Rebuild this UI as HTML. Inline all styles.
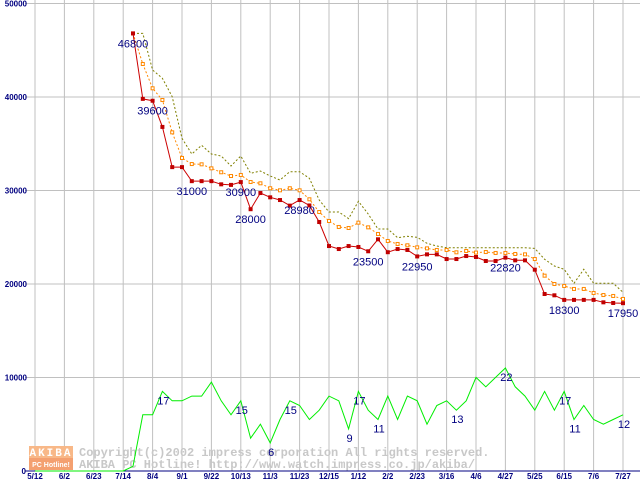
<!DOCTYPE html>
<html><head><meta charset="utf-8"><style>
html,body{margin:0;padding:0;background:#fff;}
svg{display:block;}
</style></head><body>
<svg id="chart" width="640" height="480" xmlns="http://www.w3.org/2000/svg">
<g id="grid"></g>
<g id="wm">
<rect x="29" y="446" width="44" height="12" fill="#f8b888"/>
<rect x="29" y="458" width="44" height="12" fill="#f4a070"/>
<text x="51" y="456" font-family="Liberation Mono, monospace" font-size="11" font-weight="bold" fill="#fff" text-anchor="middle" letter-spacing="2">AKIBA</text>
<text x="51" y="467" font-family="Liberation Sans, sans-serif" font-size="7" font-weight="bold" fill="#fff" text-anchor="middle">PC Hotline!</text>
<text x="79" y="456" font-family="Liberation Mono, monospace" font-size="12" font-weight="bold" fill="#c8c8c8">Copyright(c)2002 impress corporation All rights reserved.</text>
<text x="79" y="468" font-family="Liberation Mono, monospace" font-size="12" font-weight="bold" fill="#c8c8c8">AKIBA PC Hotline!  http://www.watch.impress.co.jp/akiba/</text>
</g>
<g id="series"></g>
<g id="labels"></g>
</svg>
<script>
const xLabels = ["5/12","6/2","6/23","7/14","8/4","9/1","9/22","10/13","11/3","11/23","12/15","1/12","2/2","2/23","3/16","4/6","4/27","5/25","6/15","7/6","7/27"];
const yTicks = [0,10000,20000,30000,40000,50000];
const startIndex = 10;
const minPrice = [46800,39800,39600,36800,32500,32500,31000,31000,31000,30660,30600,30900,28000,29730,29270,28980,28380,28980,28400,26630,24060,23740,24060,23960,23500,24780,23400,23740,23640,22950,23170,23170,22670,22670,22990,22890,22460,22460,22820,22530,22530,21530,18930,18790,18300,18300,18300,18300,18040,17970,17950];
const avgPrice = [46800,43530,40930,39680,36220,33480,32830,32800,32370,31950,31550,31660,30910,30770,30240,30020,30240,30020,29060,27700,26740,26100,25990,26560,26060,25350,24600,24280,24140,23920,23810,23640,23640,23390,23530,23360,23420,23320,23320,23210,23170,22670,20890,20000,19790,19470,19470,19040,18820,18720,18400];
const maxPrice = [46800,46800,42890,42000,40030,35580,33900,34830,33900,33690,32620,33690,31840,32090,31550,31120,32010,32010,31300,28980,27700,27700,26990,28840,27490,25880,25880,24950,25100,24990,24350,24060,23880,23880,23880,23880,23880,23880,23880,23880,23880,23810,22640,21930,21570,20070,21570,20070,20070,20070,19110];
const shopCount = [0,0,0,0,0,0,0,0,0,0,1,12,12,17,15,15,16,16,19,15,12,15,7,10,6,11,15,14,11,13,16,15,9,17,13,11,16,11,16,15,10,14,15,13,15,20,18,20,22,18,16,13,17,13,17,11,14,11,10,11,12];
const priceLabelIdx = [0,2,6,11,12,17,24,29,38,44,50];
const countLabelIdx = [13,21,24,26,32,33,35,43,48,54,55,60];

const NS="http://www.w3.org/2000/svg";
const X = i => 35 + i*9.8;
const Y = v => 471 - v*0.00935;
const YC = c => 471 - c*4.68;
function mk(tag, attrs, parent){const e=document.createElementNS(NS,tag);for(const k in attrs)e.setAttribute(k,attrs[k]);parent.appendChild(e);return e;}
const grid=document.getElementById('grid'), ser=document.getElementById('series'), lab=document.getElementById('labels');

xLabels.forEach((t,k)=>{
  const x=X(k*3);
  const l=mk('line',{x1:x,y1:0,x2:x,y2:471,stroke:'#c0c0c0','stroke-width':1},grid);
  
  
  const tx=mk('text',{x:x,y:479,'font-family':'Liberation Sans, sans-serif','font-size':8,'font-weight':'bold',fill:'#000080','text-anchor':'middle'},grid);
  tx.textContent=t;
  
  
});
yTicks.forEach(v=>{
  const y=Y(v);
  const l=mk('line',{x1:25,y1:y,x2:640,y2:y,stroke:v===0?'#000080':'#c0c0c0','stroke-width':1},grid);
  
  
  const tx=mk('text',{x:v===0?26:27,y:y+3,'font-family':'Liberation Sans, sans-serif','font-size':8,'font-weight':'bold',fill:'#000080','text-anchor':'end'},grid);
  tx.textContent=String(v);
  
  
});

function pts(arr,off,fy){return arr.map((v,i)=>X(i+off).toFixed(1)+','+fy(v).toFixed(1)).join(' ');}
const g1=mk('polyline',{points:pts(shopCount,0,YC),fill:'none',stroke:'#00ee00','stroke-width':1},ser);


const o1=mk('polyline',{points:pts(maxPrice,startIndex,Y),fill:'none',stroke:'#808000','stroke-width':1,'stroke-dasharray':'2,2'},ser);


const a1=mk('polyline',{points:pts(avgPrice,startIndex,Y),fill:'none',stroke:'#ff8800','stroke-width':1,'stroke-dasharray':'2,2'},ser);


avgPrice.forEach((v,i)=>{
  const r=mk('rect',{x:X(i+startIndex)-1.5,y:Y(v)-1.5,width:3,height:3,fill:'#fff',stroke:'#ff8800','stroke-width':1},ser);
  
  
});
const r1=mk('polyline',{points:pts(minPrice,startIndex,Y),fill:'none',stroke:'#cc0000','stroke-width':1},ser);


minPrice.forEach((v,i)=>{
  const r=mk('rect',{x:X(i+startIndex)-2,y:Y(v)-2,width:4,height:4,fill:'#c00000'},ser);
  
  
});
priceLabelIdx.forEach(i=>{
  const t=mk('text',{x:X(i+startIndex),y:Y(minPrice[i])+14,'font-family':'Liberation Sans, sans-serif','font-size':11,fill:'#000080','text-anchor':'middle'},lab);
  t.textContent=String(minPrice[i]);
  
  
});
countLabelIdx.forEach(i=>{
  const t=mk('text',{x:X(i)+1,y:YC(shopCount[i])+13,'font-family':'Liberation Sans, sans-serif','font-size':11,fill:'#000080','text-anchor':'middle'},lab);
  t.textContent=String(shopCount[i]);
  
  
});
</script>
</body></html>
